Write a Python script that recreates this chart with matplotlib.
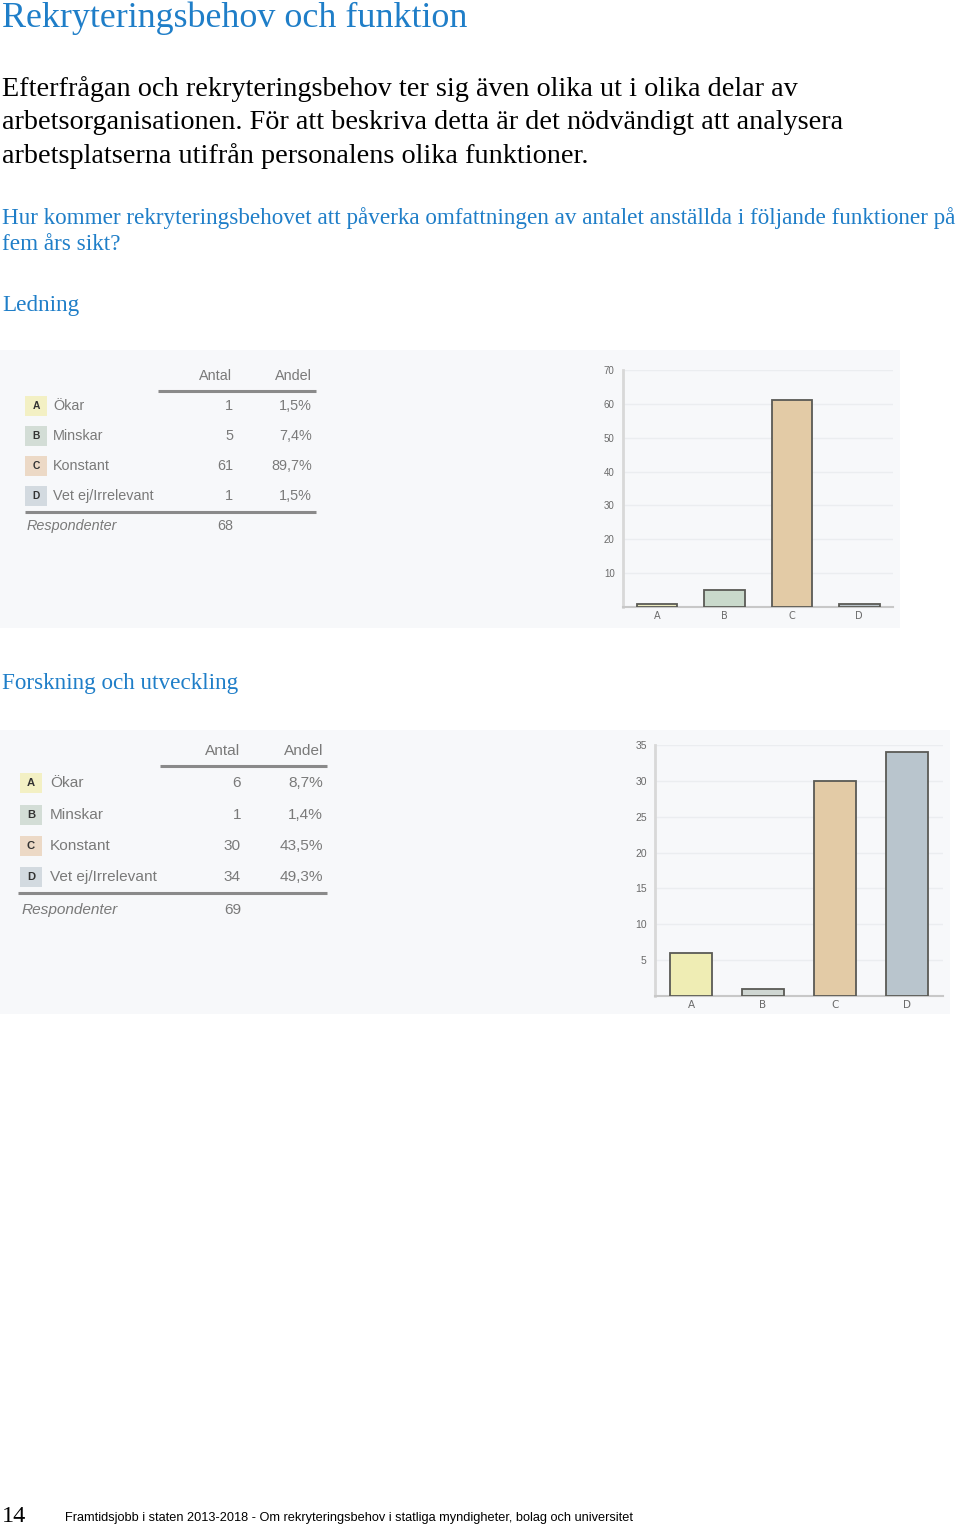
import matplotlib
matplotlib.use("Agg")
import matplotlib.pyplot as plt
from matplotlib.patches import Rectangle

# ── Data ──────────────────────────────────────────────────────────────────────
letters = ["A", "B", "C", "D"]
options = ["Ökar", "Minskar", "Konstant", "Vet ej/Irrelevant"]

ledning_antal = [1, 5, 61, 1]
ledning_andel = ["1,5%", "7,4%", "89,7%", "1,5%"]
ledning_resp = 68

fou_antal = [6, 1, 30, 34]
fou_andel = ["8,7%", "1,4%", "43,5%", "49,3%"]
fou_resp = 69

# ── Style ─────────────────────────────────────────────────────────────────────
W, H = 960, 1528
BLUE = "#1f7ec8"
GREY_TXT = "#7a7a7a"
PANEL = "#f7f8fa"
box_colors = ["#f3f0c4", "#d3ddd6", "#ecd9c6", "#d3dae0"]
bar_colors_1 = ["#ecebc0", "#c9d9cb", "#e3cba6", "#b9c2c8"]
bar_colors_2 = ["#efedb4", "#cfd6d2", "#e3cba6", "#b9c5cd"]
SERIF = ["Liberation Serif", "DejaVu Serif"]
SANS = ["Liberation Sans", "DejaVu Sans"]

fig = plt.figure(figsize=(W / 100, H / 100), dpi=100)
bg = fig.add_axes([0, 0, 1, 1])
bg.set_xlim(0, W)
bg.set_ylim(H, 0)
bg.axis("off")

# ── Page text ─────────────────────────────────────────────────────────────────
bg.text(2, 18, "Rekryteringsbehov och funktion", family=SERIF, fontsize=25.9,
        color=BLUE, va="center", ha="left")
body = ["Efterfrågan och rekryteringsbehov ter sig även olika ut i olika delar av",
        "arbetsorganisationen. För att beskriva detta är det nödvändigt att analysera",
        "arbetsplatserna utifrån personalens olika funktioner."]
for i, line in enumerate(body):
    bg.text(2, 89 + i * 33.5, line, family=SERIF, fontsize=20.3, color="black",
            va="center", ha="left")
bg.text(2, 218, "Hur kommer rekryteringsbehovet att påverka omfattningen av antalet anställda i följande funktioner på",
        family=SERIF, fontsize=16.65, color=BLUE, va="center", ha="left")
bg.text(2, 245, "fem års sikt?", family=SERIF, fontsize=16.65, color=BLUE,
        va="center", ha="left")
bg.text(2, 305, "Ledning", family=SERIF, fontsize=16.7, color=BLUE, va="center", ha="left")
bg.text(2, 683, "Forskning och utveckling", family=SERIF, fontsize=16.7, color=BLUE,
        va="center", ha="left")

bg.text(2, 1516, "14", family=SERIF, fontsize=17.5, color="black", va="center", ha="left")
bg.text(65, 1518, "Framtidsjobb i staten 2013-2018 - Om rekryteringsbehov i statliga myndigheter, bolag och universitet",
        family=SANS, fontsize=9.15, color="black", va="center", ha="left")

# ── Panels ────────────────────────────────────────────────────────────────────
bg.add_patch(Rectangle((0, 350), 900, 278, fc=PANEL, ec="none"))
bg.add_patch(Rectangle((0, 730), 950, 284, fc=PANEL, ec="none"))


def draw_table(x0, ys, head_y, line1, line2, resp_y, col_antal, col_andel,
               antal, andel, resp, fs, lab_off):
    bg.text(col_antal, head_y, "Antal", family=SANS, fontsize=fs, color=GREY_TXT,
            ha="right", va="center")
    bg.text(col_andel, head_y, "Andel", family=SANS, fontsize=fs, color=GREY_TXT,
            ha="right", va="center")
    bg.plot(line1[:2], [line1[2]] * 2, color="#8a8a8a", lw=2.2, solid_capstyle="butt")
    for i, y in enumerate(ys):
        bg.add_patch(Rectangle((x0, y - 10), 22, 20, fc=box_colors[i], ec="none"))
        bg.text(x0 + 11, y, letters[i], family=SANS, fontsize=fs - 3, color="#333333",
                ha="center", va="center", fontweight="bold")
        bg.text(x0 + lab_off, y, options[i], family=SANS, fontsize=fs, color=GREY_TXT,
                ha="left", va="center")
        bg.text(col_antal + 1, y, str(antal[i]), family=SANS, fontsize=fs,
                color=GREY_TXT, ha="right", va="center")
        bg.text(col_andel, y, andel[i], family=SANS, fontsize=fs, color=GREY_TXT,
                ha="right", va="center")
    bg.plot(line2[:2], [line2[2]] * 2, color="#8a8a8a", lw=2.2, solid_capstyle="butt")
    bg.text(x0 + 2, resp_y, "Respondenter", family=SANS, fontsize=fs, color=GREY_TXT,
            ha="left", va="center", style="italic")
    bg.text(col_antal - 7, resp_y, str(resp), family=SANS, fontsize=fs, color=GREY_TXT,
            ha="center", va="center")


draw_table(25, [406, 436, 466, 496], 376, (158, 316, 391), (25, 316, 512), 526,
           232, 312, ledning_antal, ledning_andel, ledning_resp, 10.4, 28)
draw_table(20, [783, 815, 846, 877], 751, (160, 327, 766), (18, 327, 893), 910,
           240, 323, fou_antal, fou_andel, fou_resp, 11.1, 30)


def bar_chart(rect_px, values, colors, ymax, step, width, fs):
    l, t, r, b = rect_px
    ax = fig.add_axes([l / W, 1 - b / H, (r - l) / W, (b - t) / H])
    ax.patch.set_alpha(0)
    ax.bar(letters, values, width=width, color=colors, edgecolor="#5a5a55",
           linewidth=1.3, zorder=3)
    ax.set_xlim(-0.5, len(letters) - 0.5)
    ax.set_ylim(0, ymax)
    ticks = list(range(step, ymax + 1, step))
    ax.set_yticks(ticks)
    ax.set_yticklabels([str(t) for t in ticks], fontsize=fs, color="#6a6a6a",
                       family=SANS)
    ax.tick_params(axis="x", length=0, labelsize=fs, labelcolor="#6a6a6a", pad=3)
    ax.tick_params(axis="y", length=0, pad=6)
    for t in ticks:
        ax.axhline(t, color="#ebedf0", lw=1, zorder=0)
    for s in ["top", "right"]:
        ax.spines[s].set_visible(False)
    ax.spines["left"].set_color("#d8d8d8")
    ax.spines["left"].set_linewidth(2)
    ax.spines["bottom"].set_color("#c8c8c8")
    ax.spines["bottom"].set_linewidth(1.5)
    return ax


bar_chart((623, 370, 893, 607), ledning_antal, bar_colors_1, 70, 10, 0.6, 7)
bar_chart((655, 745, 943, 996), fou_antal, bar_colors_2, 35, 5, 0.58, 7.5)

fig.savefig("out.png", dpi=100)
